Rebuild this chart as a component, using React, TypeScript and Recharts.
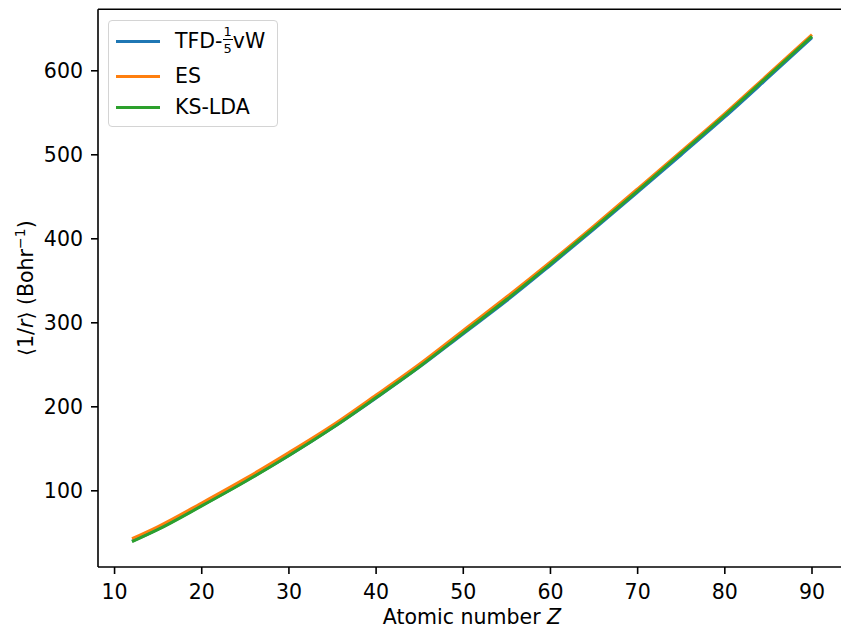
import { LineChart, Line, XAxis, YAxis, Legend, Label, ReferenceLine } from 'recharts';

// atomic number Z and <1/r> (Bohr^-1)
const atomicNumbers = [12, 15, 20, 25, 30, 35, 40, 45, 50, 55, 60, 65, 70, 75, 80, 85, 90];
const tfdValues = [40, 54.5, 82.5, 111.5, 142, 175, 210.5, 247.5, 287, 326.5, 368.5, 411.5, 455.5, 500, 545, 592, 639.5];
const esValues = [43, 57.5, 85.5, 114.5, 145.5, 178, 214, 251, 291, 331, 372.5, 415.5, 459.5, 504, 549, 596, 643];
const ksValues = [39.5, 54, 82, 111, 142, 175, 211, 248, 288, 328, 370, 413, 457, 502, 547, 594, 641];

const xTicks = [10, 20, 30, 40, 50, 60, 70, 80, 90];
const yTicks = [100, 200, 300, 400, 500, 600];
const yDomain = [9.3, 673.2];
const seriesOrder = ['tfd', 'es', 'ks'];

const data = atomicNumbers.map((z, i) => ({
  z,
  tfd: tfdValues[i],
  es: esValues[i],
  ks: ksValues[i],
}));

const FONT = '"DejaVu Sans", sans-serif';
const FS = 20.5;

const tickStyle = { fill: '#000', fontSize: FS, fontFamily: FONT };
const spine = { stroke: '#000', strokeWidth: 1.6 };

function LegendLabel({ dataKey }: { dataKey: string }) {
  if (dataKey === 'tfd') {
    return (
      <span>
        TFD-
        <span
          style={{
            display: 'inline-flex',
            flexDirection: 'column',
            alignItems: 'center',
            fontSize: 13,
            lineHeight: 1,
            verticalAlign: 'middle',
            position: 'relative',
            top: -2,
          }}
        >
          <span style={{ borderBottom: '1px solid #000', padding: '0 1px 1px' }}>1</span>
          <span style={{ paddingTop: 2 }}>5</span>
        </span>
        vW
      </span>
    );
  }
  if (dataKey === 'es') return <span>ES</span>;
  return <span>KS-LDA</span>;
}

function LegendBox(props: any) {
  const payload = [...(props.payload || [])].sort(
    (a: any, b: any) => seriesOrder.indexOf(a.dataKey) - seriesOrder.indexOf(b.dataKey)
  );
  const rowTops = [22, 56.7, 87.7];
  return (
    <div
      style={{
        position: 'relative',
        width: 170,
        height: 107,
        boxSizing: 'border-box',
        border: '1.5px solid #d4d4d4',
        borderRadius: 4,
        background: 'rgba(255,255,255,0.8)',
        fontFamily: FONT,
        fontSize: FS,
        color: '#000',
      }}
    >
      {payload.map((entry: any, i: number) => (
        <div
          key={entry.dataKey}
          style={{ position: 'absolute', left: 0, top: rowTops[i] - 1.5, width: '100%', height: 0 }}
        >
          <div
            style={{
              position: 'absolute',
              left: 7,
              top: -1.5,
              width: 44,
              height: 3,
              background: entry.color,
            }}
          />
          <div
            style={{
              position: 'absolute',
              left: 66,
              top: 0,
              transform: 'translateY(-50%)',
              whiteSpace: 'nowrap',
              lineHeight: 1,
            }}
          >
            <LegendLabel dataKey={entry.dataKey} />
          </div>
        </div>
      ))}
    </div>
  );
}

function XLabel({ viewBox }: any) {
  const cx = viewBox.x + viewBox.width / 2;
  return (
    <text x={cx} y={623.5} textAnchor="middle" fontSize={FS} fontFamily={FONT} fill="#000">
      Atomic number <tspan fontStyle="italic">Z</tspan>
    </text>
  );
}

function YLabel({ viewBox }: any) {
  const cy = viewBox.y + viewBox.height / 2;
  const x = 33;
  return (
    <text
      x={x}
      y={cy}
      transform={`rotate(-90, ${x}, ${cy})`}
      textAnchor="middle"
      fontSize={FS}
      fontFamily={FONT}
      fill="#000"
    >
      ⟨1/<tspan fontStyle="italic">r</tspan>⟩ (Bohr
      <tspan dy={-8} fontSize={14}>−1</tspan>
      <tspan dy={8}>)</tspan>
    </text>
  );
}

export default function App() {
  return (
    <div
      style={{
        position: 'absolute',
        left: 0,
        top: 0,
        width: 841,
        height: 629,
        overflow: 'hidden',
        background: '#fff',
      }}
    >
      <LineChart
        width={860}
        height={629}
        data={data}
        margin={{ top: 9.3, right: 14, bottom: 0, left: 0 }}
      >
        <XAxis
          dataKey="z"
          type="number"
          domain={[8.1, 93.9]}
          ticks={xTicks}
          allowDataOverflow
          height={62}
          tick={tickStyle}
          tickSize={7}
          tickMargin={10}
          axisLine={spine}
          tickLine={spine}
        >
          <Label content={<XLabel />} />
        </XAxis>
        <YAxis
          type="number"
          domain={yDomain}
          ticks={yTicks}
          allowDataOverflow
          width={98}
          tick={tickStyle}
          tickSize={7}
          tickMargin={8}
          axisLine={spine}
          tickLine={spine}
        >
          <Label content={<YLabel />} />
        </YAxis>
        <ReferenceLine y={yDomain[1]} stroke="#000" strokeWidth={1.6} ifOverflow="extendDomain" />
        <Legend
          layout="vertical"
          align="center"
          verticalAlign="middle"
          content={<LegendBox />}
          wrapperStyle={{ left: 108, top: 20, width: 170, height: 107 }}
        />
        <Line
          dataKey="tfd"
          name="TFD-1/5vW"
          type="monotone"
          stroke="#1f77b4"
          strokeWidth={3}
          dot={false}
          isAnimationActive={false}
        />
        <Line
          dataKey="es"
          name="ES"
          type="monotone"
          stroke="#ff7f0e"
          strokeWidth={3}
          dot={false}
          isAnimationActive={false}
        />
        <Line
          dataKey="ks"
          name="KS-LDA"
          type="monotone"
          stroke="#2ca02c"
          strokeWidth={3}
          dot={false}
          isAnimationActive={false}
        />
      </LineChart>
    </div>
  );
}
